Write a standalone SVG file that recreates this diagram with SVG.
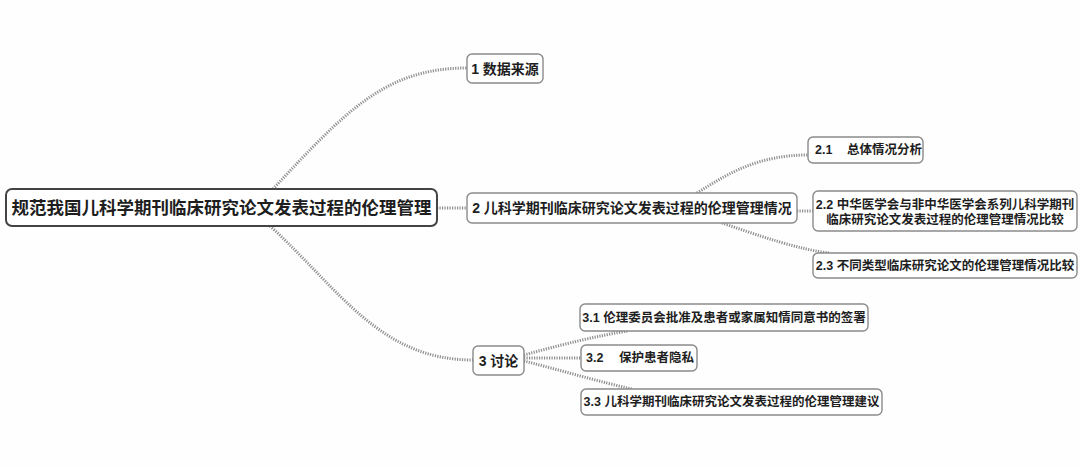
<svg xmlns="http://www.w3.org/2000/svg" width="1080" height="466" viewBox="0 0 1080 466">
<style>
.bg{fill:#fefefe}
.link{fill:none;stroke:#8e8e8e;stroke-width:3;stroke-dasharray:1.2 1.3}
.box{fill:#ffffff;stroke:#8a8a8a;stroke-width:1.4}
.rootbox{fill:#ffffff;stroke:#444;stroke-width:2}
text{font-family:"Liberation Sans","Noto Sans CJK SC",sans-serif;font-weight:bold;fill:#1e1e1e;dominant-baseline:central}
.t14{font-size:14px}
.t12{font-size:12.5px}
.root{font-size:17.5px}
.mid{text-anchor:middle}
</style>
<rect class="bg" x="0" y="0" width="1080" height="466"/>
<g id="connectors">
<path class="link" d="M273,189 C345,112 385,68 467,68"/>
<path class="link" d="M437,208 L467,208"/>
<path class="link" d="M270,226 C340,290 380,360 473,360"/>
<path class="link" d="M697,193 C730,172 760,155 808,155"/>
<path class="link" d="M797,211 L813,211"/>
<path class="link" d="M722,223 C760,236 800,250 830,253"/>
<path class="link" d="M524,355 C560,345 600,335 628,331"/>
<path class="link" d="M524,358 L581,358"/>
<path class="link" d="M524,361 C560,370 600,382 632,389"/>
</g>
<g id="root">
<rect class="rootbox" x="6" y="189" width="431" height="37" rx="6"/>
<text class="root mid" x="221.5" y="207.5">规范我国儿科学期刊临床研究论文发表过程的伦理管理</text>
</g>
<g id="n1">
<rect class="box" x="467" y="54" width="76" height="29" rx="5"/>
<text class="t14 mid" x="505" y="68.5">1 数据来源</text>
</g>
<g id="n2">
<rect class="box" x="467" y="193" width="330" height="30" rx="5"/>
<text class="t14 mid" x="632" y="208">2 儿科学期刊临床研究论文发表过程的伦理管理情况</text>
</g>
<g id="n21">
<rect class="box" x="808" y="137" width="115" height="26" rx="5"/>
<text class="t12" y="150"><tspan x="815">2.1</tspan><tspan x="847">总体情况分析</tspan></text>
</g>
<g id="n22">
<rect class="box" x="813" y="191" width="264" height="40" rx="5"/>
<text class="t12 mid" x="945" y="204.5">2.2 中华医学会与非中华医学会系列儿科学期刊</text>
<text class="t12 mid" x="945" y="219.5">临床研究论文发表过程的伦理管理情况比较</text>
</g>
<g id="n23">
<rect class="box" x="813" y="253" width="264" height="25" rx="5"/>
<text class="t12 mid" x="945" y="265.5">2.3 不同类型临床研究论文的伦理管理情况比较</text>
</g>
<g id="n3">
<rect class="box" x="473" y="346" width="51" height="29" rx="5"/>
<text class="t14 mid" x="498.5" y="360.5">3 讨论</text>
</g>
<g id="n31">
<rect class="box" x="580" y="304" width="288" height="27" rx="5"/>
<text class="t12 mid" x="724" y="317.5">3.1 伦理委员会批准及患者或家属知情同意书的签署</text>
</g>
<g id="n32">
<rect class="box" x="581" y="345" width="116" height="26" rx="5"/>
<text class="t12" y="358"><tspan x="586">3.2</tspan><tspan x="619">保护患者隐私</tspan></text>
</g>
<g id="n33">
<rect class="box" x="581" y="389" width="301" height="26" rx="5"/>
<text class="t12 mid" x="731.5" y="402">3.3 儿科学期刊临床研究论文发表过程的伦理管理建议</text>
</g>
</svg>
